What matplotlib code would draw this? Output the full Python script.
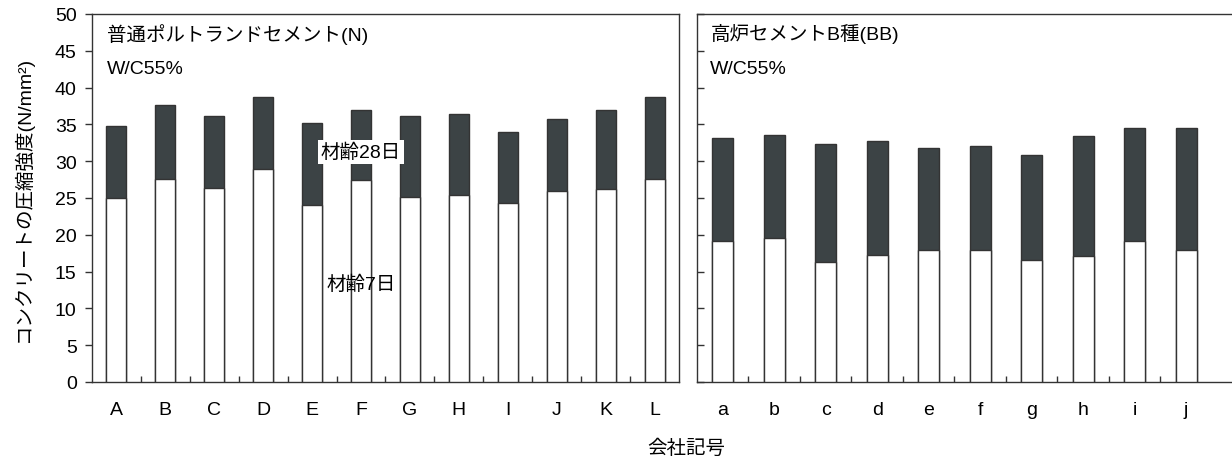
import matplotlib
matplotlib.use("Agg")
import matplotlib.pyplot as plt
import numpy as np

plt.rcParams['font.family'] = ['Liberation Sans', 'Noto Sans CJK JP', 'DejaVu Sans']

# Data
n_labels = ['A', 'B', 'C', 'D', 'E', 'F', 'G', 'H', 'I', 'J', 'K', 'L']
n_7d = [25.0, 27.6, 26.3, 28.9, 24.1, 27.4, 25.2, 25.4, 24.3, 25.9, 26.2, 27.6]
n_28d = [34.8, 37.6, 36.2, 38.7, 35.2, 36.9, 36.1, 36.4, 34.0, 35.8, 36.9, 38.7]

bb_labels = ['a', 'b', 'c', 'd', 'e', 'f', 'g', 'h', 'i', 'j']
bb_7d = [19.1, 19.5, 16.3, 17.3, 18.0, 18.0, 16.6, 17.1, 19.1, 18.0]
bb_28d = [33.2, 33.6, 32.4, 32.8, 31.8, 32.1, 30.9, 33.4, 34.5, 34.5]

yticks = [0, 5, 10, 15, 20, 25, 30, 35, 40, 45, 50]

W, H = 1232, 460
fig = plt.figure(figsize=(W / 100, H / 100), dpi=100)

dark = '#3c4345'
edge = '#333333'
bw = 0.41
fs = 14

def panel(rect, labels, v7, v28, xmax, title, show_y):
    ax = fig.add_axes(rect)
    x = np.arange(len(labels))
    ax.bar(x, v28, width=bw, color=dark, edgecolor=edge, linewidth=1.0, zorder=2)
    ax.bar(x, v7, width=bw, color='white', edgecolor=edge, linewidth=1.0, zorder=3)
    ax.set_xlim(-0.5, xmax)
    ax.set_ylim(0, 50)
    ax.set_xticks(x)
    ax.set_xticklabels(labels, fontsize=fs)
    ax.tick_params(axis='x', length=0, pad=14)
    ax.set_xticks(np.arange(len(labels) - 1) + 0.5, minor=True)
    ax.tick_params(axis='x', which='minor', direction='in', length=4, width=1, color=edge)
    ax.set_yticks(yticks)
    if show_y:
        ax.tick_params(axis='y', direction='out', length=5, width=1, labelsize=fs, color=edge, pad=6)
    else:
        ax.tick_params(axis='y', direction='in', length=5, width=1, labelleft=False, color=edge)
    for s in ax.spines.values():
        s.set_color(edge)
        s.set_linewidth(1.0)
    ax.text(0.025, 0.975, title, transform=ax.transAxes, fontsize=fs, va='top', ha='left')
    ax.text(0.025, 0.875, 'W/C55%', transform=ax.transAxes, fontsize=fs, va='top', ha='left')
    return ax

axL = panel([92 / W, (H - 383) / H, (679 - 92) / W, (383 - 15) / H],
            n_labels, n_7d, n_28d, 11.5, '普通ポルトランドセメント(N)', True)
axR = panel([697 / W, (H - 383) / H, (1231 - 697) / W, (383 - 15) / H],
            bb_labels, bb_7d, bb_28d, 9.87, '高炉セメントB種(BB)', False)
axR.spines['right'].set_visible(False)

axL.text(5, 31.3, '材齢28日', fontsize=fs, ha='center', va='center', zorder=5,
         bbox=dict(facecolor='white', edgecolor='none', pad=2))
axL.text(5, 13.4, '材齢7日', fontsize=fs, ha='center', va='center', zorder=5)

axL.set_ylabel('コンクリートの圧縮強度(N/mm²)', fontsize=fs, labelpad=16)
fig.text(686 / W, 1 - 449 / H, '会社記号', fontsize=fs, ha='center', va='center')

fig.savefig('out.png', dpi=100)
